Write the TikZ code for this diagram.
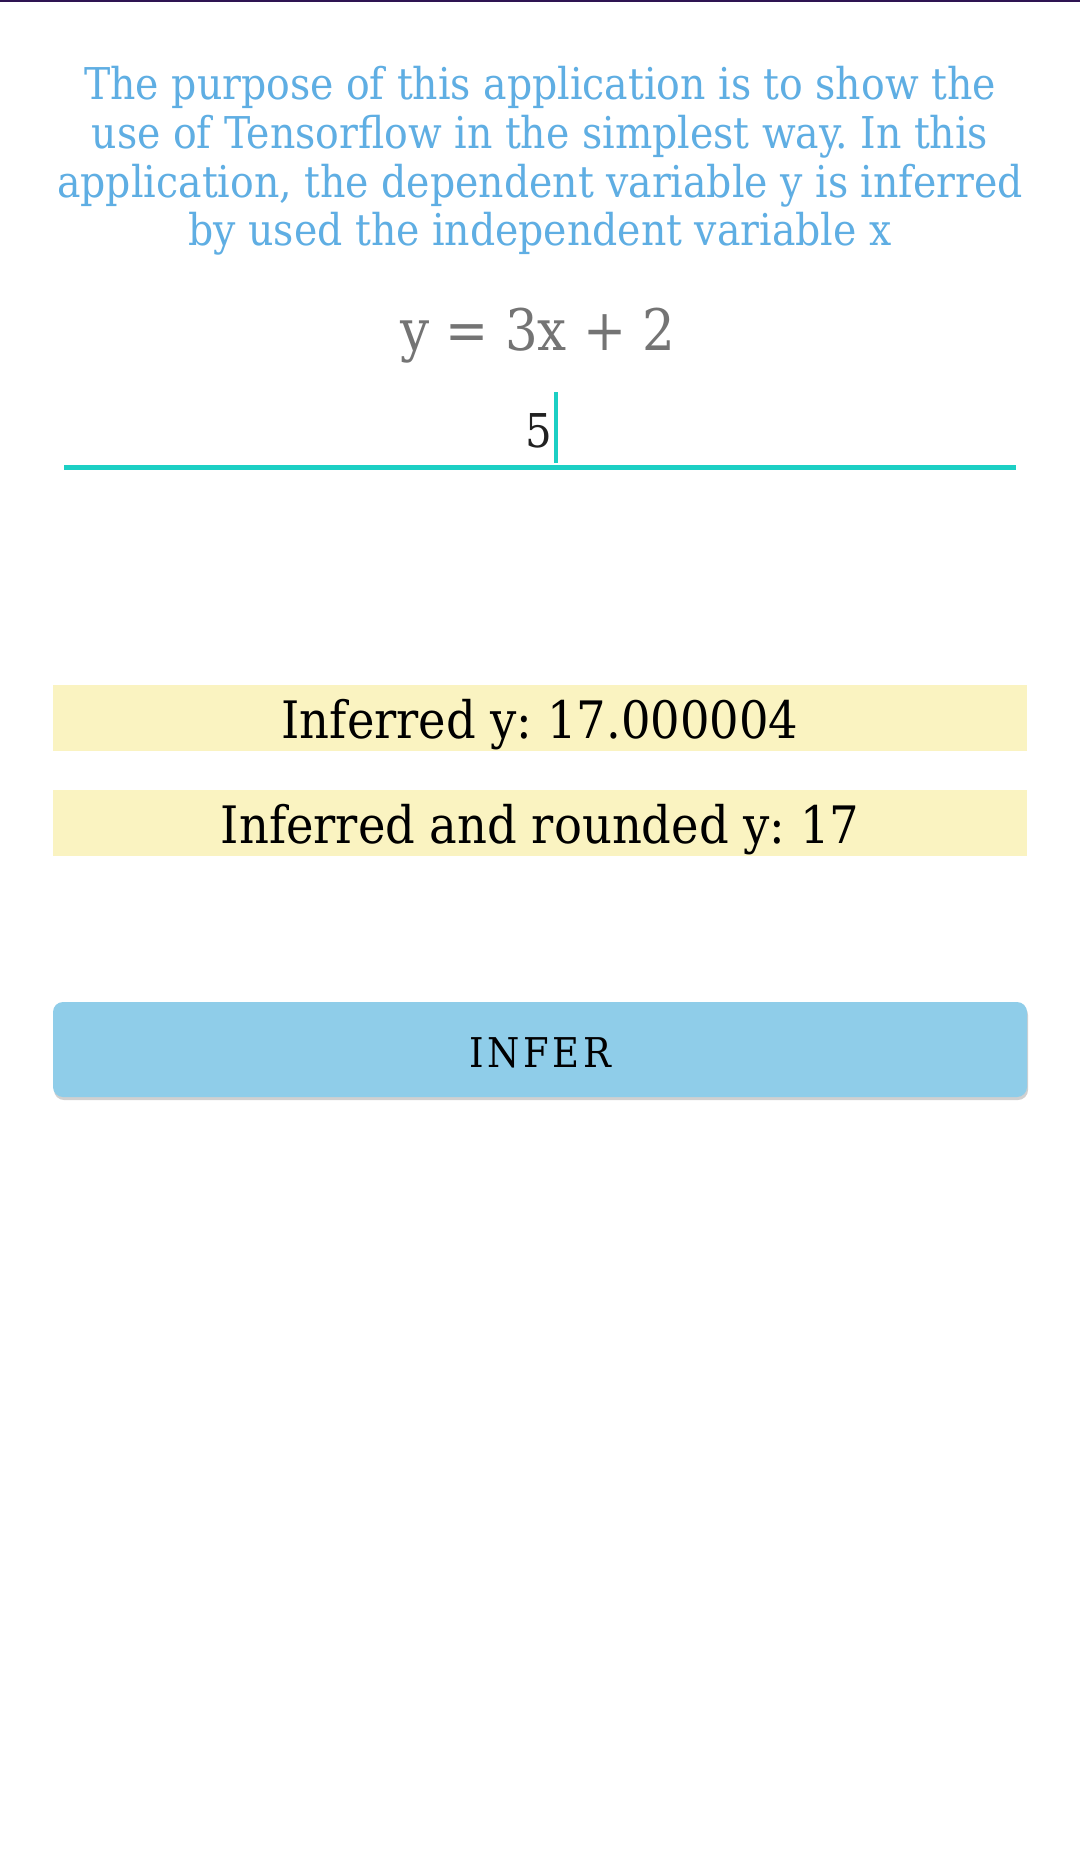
\documentclass[tikz,border=0pt]{standalone}
\usepackage{fontspec}
\setmainfont{DejaVu Serif Condensed}
\usetikzlibrary{positioning, shadows}
\definecolor{topbar}{HTML}{2E1452}
\definecolor{introblue}{HTML}{5FAEE3}
\definecolor{eqngrey}{HTML}{747474}
\definecolor{inputteal}{HTML}{1CCFC4}
\definecolor{resultyellow}{HTML}{FAF3C1}
\definecolor{buttonblue}{HTML}{8FCDE9}
\frenchspacing
\begin{document}
\begin{tikzpicture}[x=0.5pt, y=-0.5pt,
  resultbox/.style={fill=resultyellow, minimum width=487pt, inner sep=0pt,
    text height=26.5pt, text depth=6.5pt, font=\fontsize{25.8pt}{30pt}\selectfont},
  inferbutton/.style={fill=buttonblue, rounded corners=5pt, minimum width=487pt, inner sep=0pt,
    text height=32.5pt, text depth=15pt,
    drop shadow={shadow xshift=0.5pt, shadow yshift=-1.5pt, opacity=0.3, fill=black!60},
    font=\fontsize{20.5pt}{24pt}\selectfont\addfontfeature{LetterSpace=9}}]
  \useasboundingbox (0,0) rectangle (1080,1858);
  \fill [white] (0,0) rectangle (1080,1858);
  \draw [topbar, line width=1pt] (0,1) -- (1080,1);
  % intro text
  \node (purpose) at (540,66) [anchor=north, align=center, inner sep=0pt, text=introblue,
    font=\fontsize{21.9pt}{24.35pt}\selectfont]
    {The purpose of this application is to show the\\
     use of Tensorflow in the simplest way. In this\\
     application, the dependent variable y is inferred\\
     by used the independent variable x};
  \node (eqn) at (538,350) [anchor=base, text=eqngrey, font=\fontsize{28.6pt}{34pt}\selectfont]
    {y = 3x + 2};
  % input field
  \coordinate (fieldL) at (64,467);
  \coordinate (fieldR) at (1016,467);
  \draw [inputteal, line width=2.5pt] (fieldL) -- (fieldR);
  \node (xvalue) at (539,447) [anchor=base, inner sep=0pt, text=black!87,
    font=\fontsize{23.3pt}{28pt}\selectfont] {5};
  \coordinate (curtop) at (556,392);
  \coordinate (curbot) at (556,463);
  \draw [inputteal, line width=2pt] (curtop) -- (curbot);
  % results
  \node (inferred) at (540,738) [anchor=base, resultbox] {Inferred y: 17.000004};
  \node (rounded) at (540,843) [anchor=base, resultbox] {Inferred and rounded y: 17};
  \node (infer) at (540,1067) [anchor=base, inferbutton] {INFER};
\end{tikzpicture}
\end{document}
